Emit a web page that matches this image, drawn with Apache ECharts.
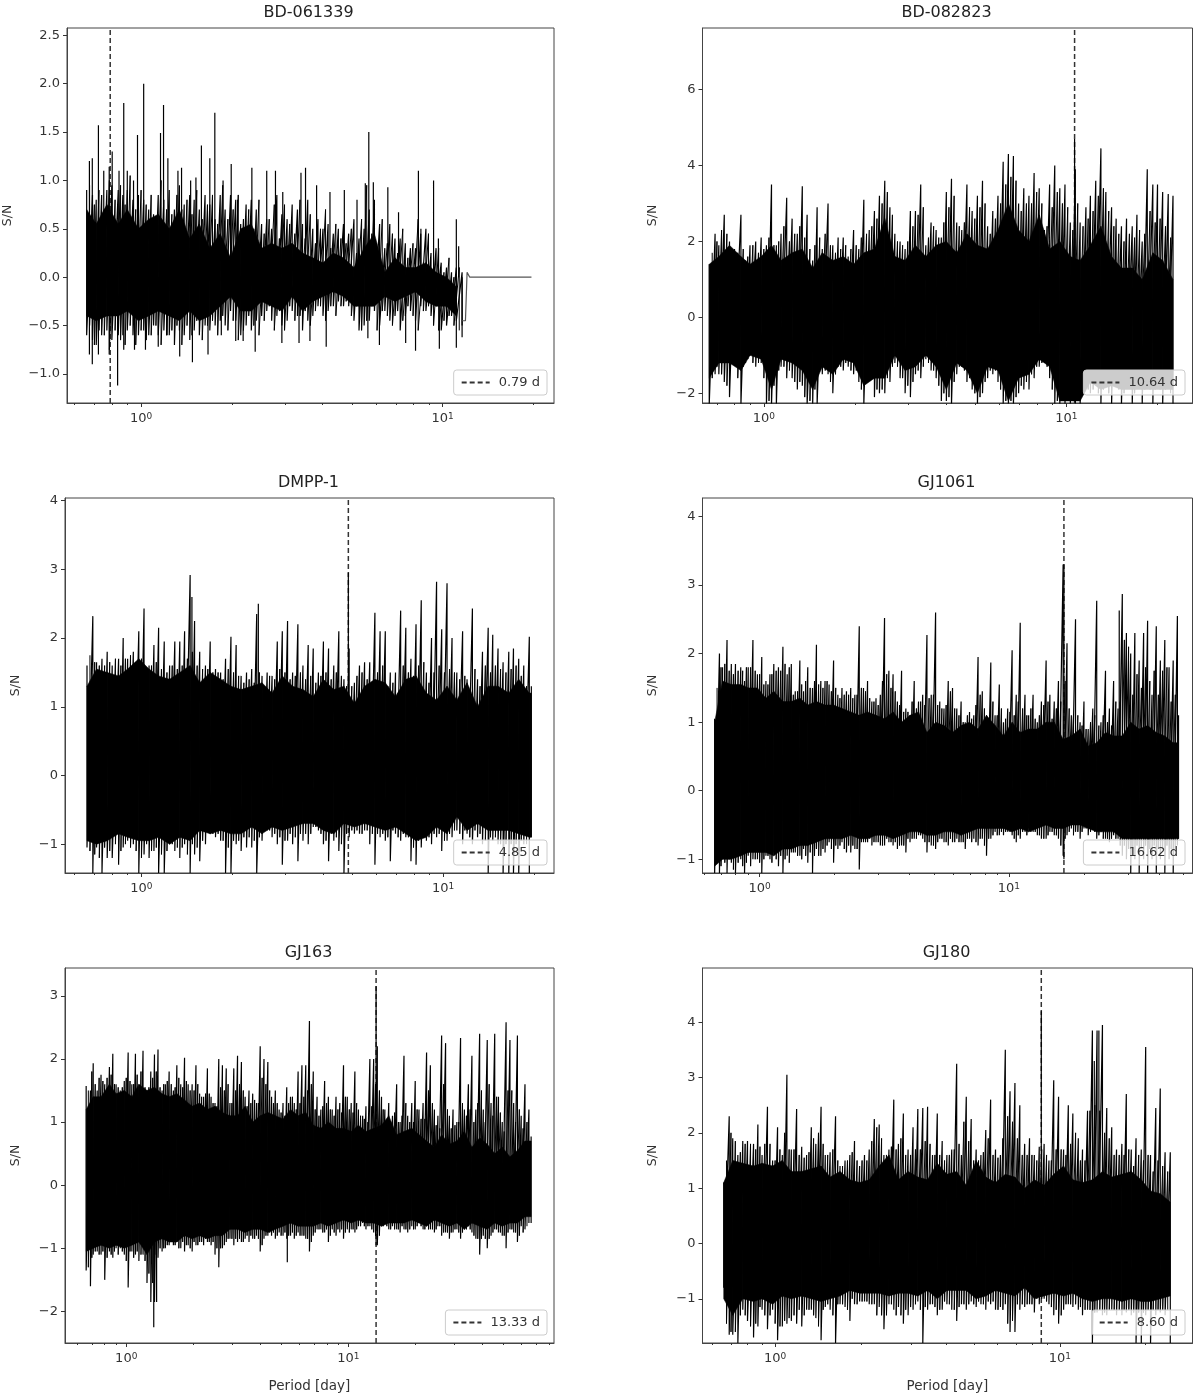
<!DOCTYPE html>
<html>
<head>
<meta charset="utf-8">
<title>S/N periodograms</title>
<script src="https://cdn.jsdelivr.net/npm/echarts@6/dist/echarts.min.js"></script>
<style>
html, body { margin: 0; background: #fff; }
#main { width: 1200px; height: 1398px; }
#main canvas { filter: blur(0.45px); }
</style>
</head>
<body>
<div id="main"></div>
<script>
var periodGrid = [.66,.69,.71,.74,.77,.80,.84,.87,.90,.94,.98,1.02,1.06,1.10,1.14,1.19,1.24,1.29,1.34,1.39,
  1.45,1.50,1.56,1.63,1.69,1.76,1.83,1.90,1.98,2.06,2.14,2.23,2.32,2.41,2.51,2.61,2.71,2.82,2.93,3.05,
  3.17,3.30,3.43,3.57,3.71,3.86,4.01,4.17,4.34,4.51,4.69,4.88,5.08,5.28,5.49,5.71,5.94,6.18,6.43,6.68,
  6.95,7.23,7.52,7.82,8.13,8.46,8.80,9.15,9.51,9.89,10.3,10.7,11.1,11.6,12.0,12.5,13.0,13.5,14.1,14.6,
  15.2,15.8,16.5,17.1,17.8,18.5,19.3,20.0,20.8,21.7,22.5,23.4,24.4,25.3,26.3,27.4,28.5,29.6,30.8,32.0,
  33.3,34.7,36.0,37.5,39.0,40.5,42.2,43.9,45.6,47.4,49.3,51.3,53.4,55.5,57.7,60.0,62.4,65.0];
// periods between the grid ones, used by the *MidHi / *MidLo strokes
var midGrid = [.675,.70,.725,.755,.785,.82,.855,.885,.92,.96,1.0,1.04,1.08,1.12,1.165,1.215,1.265,1.315,1.365,1.42,
  1.475,1.53,1.595,1.66,1.725,1.795,1.865,1.94,2.02,2.1,2.185,2.275,2.365,2.46,2.56,2.66,2.765,2.875,2.99,3.11,
  3.235,3.365,3.5,3.64,3.785,3.935,4.09,4.255,4.425,4.6,4.785,4.98,5.18,5.385,5.6,5.825,6.06,6.305,6.555,6.815,
  7.09,7.375,7.67,7.975,8.295,8.63,8.975,9.33,9.7,10.1,10.5,10.9,11.35,11.8,12.25,12.75,13.25,13.8,14.35,14.9,
  15.5,16.15,16.8,17.45,18.15,18.9,19.65,20.4,21.25,22.1,22.95,23.9,24.85,25.8,26.85,27.95,29.05,30.2,31.4,32.65,
  34.0,35.35,36.75,38.25,39.75,41.35,43.05,44.75,46.5,48.35,50.3,52.35,54.45,56.6,58.85,61.2,63.7];
var minorTicks = [.6,.7,.8,.9,2,3,4,5,6,7,8,9,20,30,40,50,60,70,80];
var majorTicks = [1,10];

// the *CoreHi / *CoreLo lists are the solid part, one value for every second grid period

// BD-061339
var bd061339Hi = [.9,.85,.8,.85,.9,.95,.9,.85,.9,.8,.85,
  .8,.7,.65,.85,.8,.9,.7,.95,.75,.85,
  .8,.7,.85,.75,.6,.85,.7,.85,.8,.55,
  .75,.8,.7,.55,.6,.5,.85,.65,.6,.75,
  .7,.55,.8,.5,.6,.5,.55,.45,.5,.55,
  .45,.6,.4,.5,.7,.8,.55,.3,.55,.4,
  .4,.35,.3,.3,.45,.5,.25,.3,.15,.1,.05,.1,.05];
var bd061339Lo = [-.6,-.65,-.7,-.6,-.55,-.65,-.6,-.6,-.55,-.6,-.6,
  -.55,-.6,-.5,-.6,-.55,-.6,-.7,-.55,-.6,-.65,
  -.55,-.6,-.5,-.55,-.5,-.45,-.5,-.35,-.45,-.6,
  -.5,-.55,-.45,-.4,-.35,-.45,-.4,-.5,-.45,-.35,
  -.4,-.55,-.45,-.4,-.3,-.4,-.35,-.3,-.25,-.3,
  -.3,-.45,-.55,-.5,-.45,-.35,-.5,-.35,-.45,-.4,
  -.55,-.4,-.35,-.45,-.3,-.35,-.4,-.3,-.55,-.5,-.4,-.45,-.5];
var bd061339MidHi = [.95,.75,.9,.7,1.0,.8,.95,.75,1.05,.7,.9,.75,.85,.6,1.0,.7,.65,.85,.7,.8,.65,.9,.6,.75,.85,.55,.95,.6,.7,.85,
  .6,.7,.5,.8,.45,.6,.75,.4,.75,.55,.45,.8,.4,.65,.35,.5,.7,.3,.55,.4,.35,.5,.25,.6,.95,.45,.2,.6,.35,.45,
  .25,.5,.2,.35,.6,.15,.45,.1,.3,.05,.2,0,.1];
var bd061339MidLo = [-.5,-.7,-.55,-.6,-.75,-.55,-.65,-.7,-.5,-.7,-.55,-.65,-.6,-.5,-.7,-.6,-.55,-.5,-.7,-.5,-.6,-.45,-.65,-.5,-.45,-.6,-.4,-.55,-.45,-.65,
  -.55,-.4,-.5,-.6,-.45,-.3,-.55,-.35,-.55,-.3,-.45,-.4,-.35,-.5,-.35,-.3,-.45,-.3,-.4,-.3,-.25,-.4,-.3,-.55,-.45,-.3,-.55,-.35,-.4,-.5,
  -.35,-.45,-.3,-.4,-.55,-.35,-.3,-.5,-.55,-.45,-.4,-.5,-.55];
var bd061339UpP = [.674,.689,.722,.752,.784,.802,.845,.876,.900,.944,.973,1.02,1.16,1.187,1.227,1.325,1.362,1.46,1.52,1.585,
  1.69,1.756,1.87,1.99,2.09,2.33,2.61,2.79,2.95,3.39,3.51,3.82,4.23,4.72,5.2,5.54,5.69,5.89,6.58,7.14,
  8.31,8.47,9.33,9.68,11.1,11.3];
var bd061339UpV = [1.2,1.23,1.57,1.1,1.14,1.3,1.1,1.8,1.1,1.0,1.47,2.0,1.49,1.78,1.23,1.1,1.13,1.0,1.03,1.36,
  1.23,1.7,1.0,1.17,.8,1.13,1.1,1.1,.88,1.08,1.13,.95,.88,.9,.8,.97,1.5,.98,.93,.67,
  1.1,.5,1.0,.4,.6,.32];
var bd061339DownP = [.674,.689,.722,.784,.836,.876,.951,1.034,1.14,1.22,1.343,1.48,1.667,1.845,2.06,2.18,2.39,2.93,3.34,3.63,
  4.11,5.65,6.17,7.54,8.13,9.75,11.1,11.6];
var bd061339DownV = [-.8,-.9,-.8,-.8,-1.12,-.75,-.75,-.75,-.72,-.6,-.82,-.88,-.8,-.6,-.66,-.66,-.77,-.68,-.68,-.66,
  -.72,-.63,-.7,-.68,-.76,-.74,-.73,-.62];
var bd061339CoreHi = [.7,.55,.75,.55,.7,.5,.6,.65,.5,.7,.4,.55,.3,.45,.2,.5,.55,.3,.35,.3,
  .35,.25,.2,.15,.25,.2,.1,.3,.45,.05,.2,.1,.1,.15,.05,0,-.1];
var bd061339CoreLo = [-.4,-.45,-.4,-.4,-.35,-.45,-.4,-.35,-.4,-.45,-.35,-.45,-.4,-.3,-.2,-.35,-.35,-.25,-.3,-.35,
  -.2,-.35,-.25,-.2,-.15,-.2,-.3,-.3,-.3,-.2,-.25,-.2,-.15,-.25,-.3,-.3,-.4];
var bd061339TailP = [11.6,11.9,12.05,12.3,19.7];
var bd061339TailV = [-.45,-.45,.05,0,0];

// BD-082823
var bd082823Hi = [1.4,2.2,1.9,2.7,2.0,1.8,2.7,1.5,1.9,2.0,
  2.1,1.9,3.5,1.9,2.2,3.15,2.6,2.2,3.45,2.7,
  1.5,2.9,1.8,3.0,1.9,2.1,2.1,1.6,2.3,1.8,
  3.1,2.3,2.8,3.2,3.6,2.9,2.2,2.0,1.8,2.8,
  2.8,3.5,1.9,2.5,2.3,2.1,3.3,3.65,2.5,2.3,
  3.5,2.8,3.2,3.6,2.4,2.8,3.2,4.1,4.3,4.25,
  3.0,3.4,3.2,3.8,3.4,2.3,3.5,4.0,3.4,3.5,
  2.5,3.9,2.5,2.9,3.2,3.6,4.45,3.3,2.9,2.6,
  2.4,2.6,2.4,2.7,2.0,3.9,3.5,3.5,3.3,3.25,3.2];
var bd082823Lo = [-2.3,-1.5,-1.5,-1.7,-2.1,-1.1,-2.3,-1.2,-1.0,-1.3,
  -1.2,-2.3,-2.3,-2.3,-1.3,-1.6,-1.6,-1.9,-1.8,-2.3,
  -2.3,-2.3,-1.5,-1.5,-2.0,-1.3,-1.4,-1.3,-1.5,-1.7,
  -2.3,-1.3,-2.1,-2.0,-2.0,-1.7,-1.2,-1.6,-2.0,-2.1,
  -1.5,-1.6,-1.1,-1.4,-1.6,-2.2,-2.2,-2.3,-1.5,-1.3,
  -1.7,-1.9,-2.3,-2.0,-1.6,-1.5,-1.7,-2.3,-2.3,-2.3,
  -2.0,-1.9,-1.9,-1.6,-1.3,-1.2,-1.6,-2.3,-2.3,-2.3,
  -2.3,-2.3,-2.3,-1.6,-2.0,-1.7,-2.3,-1.6,-2.3,-1.5,
  -2.3,-1.7,-2.3,-1.5,-2.3,-1.6,-2.3,-1.6,-2.3,-1.7,-2.3];
var bd082823MidHi = [1.7,2.0,2.3,2.2,1.8,1.7,1.8,1.6,1.9,1.7,1.8,2.1,1.9,2.0,2.4,2.0,2.2,2.4,2.1,1.8,1.9,2.1,2.2,1.9,1.7,1.8,1.9,1.8,1.9,2.1,
  2.2,2.4,2.6,3.0,3.3,2.7,2.0,1.9,2.0,2.4,2.7,2.9,2.1,2.4,2.1,2.5,2.9,3.2,2.4,2.5,2.9,2.6,2.9,3.0,2.2,2.6,3.0,3.5,3.7,3.6,
  2.8,3.0,3.0,3.3,3.0,2.4,2.9,3.3,3.0,2.9,2.3,3.0,2.4,2.6,2.8,3.2,3.4,2.8,2.4,2.2,2.0,2.2,2.1,2.3,2.2,2.8,2.5,2.6,2.4,2.1];
var bd082823MidLo = [-1.6,-1.3,-1.5,-1.8,-1.2,-1.6,-1.3,-1.1,-1.2,-1.2,-1.6,-2.2,-1.8,-1.4,-1.3,-1.4,-1.7,-1.7,-2.1,-2.2,-1.9,-1.4,-1.4,-1.7,-1.5,-1.3,-1.2,-1.4,-1.4,-1.9,
  -1.6,-1.6,-1.9,-1.9,-1.6,-1.3,-1.3,-1.6,-1.8,-1.7,-1.4,-1.3,-1.2,-1.4,-1.8,-2.0,-2.1,-1.7,-1.3,-1.4,-1.6,-2.0,-2.1,-1.7,-1.4,-1.4,-1.9,-2.2,-2.2,-2.1,
  -1.8,-1.7,-1.5,-1.3,-1.2,-1.3,-1.9,-2.2,-2.2,-2.2,-2.2,-2.2,-1.9,-1.9,-1.9,-2.0,-1.9,-2.0,-1.8,-1.9,-2.0,-1.8,-2.0,-1.8,-1.9,-1.9,-1.9,-1.9,-1.9,-2.0];
var bd082823UpP = [10.64];
var bd082823UpV = [4.7];
var bd082823DownP = [];
var bd082823DownV = [];
var bd082823CoreHi = [1.4,1.6,1.9,1.6,1.4,1.6,1.9,1.5,1.7,1.8,1.3,1.7,1.5,1.6,1.4,1.7,1.8,2.6,1.6,1.5,
  1.9,1.6,1.9,2.0,1.7,2.2,1.9,1.8,2.3,3.0,2.3,2.0,2.7,1.8,2.0,1.6,1.5,1.9,2.4,1.6,
  1.3,1.3,1.0,1.7,1.5,1.0];
var bd082823CoreLo = [-1.6,-1.2,-1.2,-1.4,-1.0,-1.1,-1.9,-1.1,-1.2,-1.4,-1.9,-1.3,-1.5,-1.1,-1.2,-1.8,-1.6,-1.6,-1.0,-1.4,
  -1.3,-1.0,-1.3,-1.9,-1.2,-1.4,-2.0,-1.3,-1.4,-2.2,-1.6,-1.5,-1.1,-1.3,-2.2,-2.2,-2.2,-1.7,-1.9,-1.8,
  -1.9,-1.9,-1.9,-1.9,-1.9,-1.9];

// DMPP-1
var dmpp1Hi = [1.6,2.32,1.65,1.7,1.8,1.6,1.7,2.0,1.7,1.8,
  2.1,2.43,1.6,1.9,2.15,1.95,1.6,1.95,1.95,2.1,
  2.92,2.25,1.8,1.6,1.95,1.55,1.5,1.7,2.02,1.9,
  1.45,1.5,1.55,2.35,1.45,1.5,1.45,1.95,2.1,2.25,
  1.5,2.2,1.6,1.9,1.85,1.5,1.95,1.85,1.6,2.1,
  1.4,1.85,1.35,1.6,1.65,1.65,2.37,2.1,2.1,1.5,
  1.5,2.4,2.15,1.7,2.2,2.55,1.5,2.0,2.82,2.13,
  2.8,2.0,1.5,2.1,1.4,2.43,1.4,1.8,2.15,2.05,
  1.85,1.65,1.8,1.85,1.7,1.6,2.02];
var dmpp1Lo = [-1.05,-1.42,-1.05,-1.42,-1.2,-1.2,-1.3,-1.05,-.95,-1.0,
  -1.42,-1.15,-1.2,-1.1,-1.42,-1.42,-1.0,-1.1,-1.2,-1.0,
  -1.42,-1.15,-1.25,-1.0,-.85,-.9,-.95,-1.42,-1.42,-1.0,
  -1.1,-1.05,-1.05,-1.42,-.95,-.8,-.9,-1.0,-1.3,-.95,
  -1.0,-1.25,-.95,-1.0,-.75,-.8,-1.0,-1.25,-.95,-1.1,
  -1.42,-.9,-.85,-.85,-.8,-1.0,-1.3,-.9,-.95,-1.25,
  -.85,-.95,-.9,-1.25,-1.3,-1.05,-.95,-1.0,-.9,-1.1,
  -.95,-.9,-.8,-1.0,-.85,-1.0,-.9,-1.0,-1.42,-.95,
  -1.0,-1.42,-1.42,-1.42,-1.42,-1.0,-1.42];
var dmpp1MidHi = [1.75,1.65,1.6,1.6,1.65,1.7,1.6,1.7,1.75,1.65,1.7,1.55,1.6,1.65,1.55,1.5,1.6,1.55,1.6,1.7,1.8,1.6,1.55,1.55,1.5,1.5,1.4,1.55,1.5,1.45,
  1.35,1.4,1.35,1.5,1.3,1.45,1.4,1.55,1.5,1.4,1.45,1.5,1.4,1.45,1.35,1.45,1.5,1.4,1.5,1.45,1.3,1.3,1.45,1.5,1.4,1.35,1.5,1.6,1.3,1.35,
  1.2,1.6,1.5,1.45,1.6,1.65,1.35,1.5,1.6,1.5,1.55,1.5,1.4,1.45,1.2,1.55,1.3,1.6,1.5,1.6,1.55,1.5,1.55,1.6,1.45,1.3];
var dmpp1MidLo = [-1.1,-1.15,-1.2,-1.05,-1.1,-1.0,-1.1,-1.0,-1.05,-1.1,-1.2,-1.0,-1.1,-1.05,-1.15,-1.1,-1.0,-1.05,-1.05,-1.15,-1.0,-1.05,-.95,-.8,-.85,-.85,-.95,-1.05,-.95,-.95,
  -.9,-.9,-.95,-.9,-.8,-.8,-.85,-.9,-.95,-.85,-.9,-.85,-.85,-.85,-.75,-.85,-.95,-.85,-.9,-1.0,-.85,-.8,-.8,-.85,-.8,-.85,-.85,-.85,-.9,-.8,
  -.9,-.85,-.9,-1.05,-.95,-.85,-.9,-.85,-.85,-.95,-.85,-.8,-.85,-.8,-.9,-.8,-.85,-.95,-.9,-.9,-1.0,-1.0,-1.0,-1.0,-.95,-1.0];
var dmpp1UpP = [4.85,1.47,2.44,19.6];
var dmpp1UpV = [2.95,2.6,2.5,1.3];
var dmpp1DownP = [19.6];
var dmpp1DownV = [-.9];
var dmpp1CoreHi = [1.3,1.55,1.5,1.45,1.55,1.7,1.55,1.45,1.4,1.5,1.6,1.35,1.5,1.4,1.3,1.25,1.3,1.35,1.2,1.45,
  1.3,1.25,1.15,1.4,1.25,1.3,1.05,1.3,1.4,1.35,1.15,1.4,1.45,1.2,1.1,1.3,1.1,1.35,1.0,1.3,
  1.3,1.2,1.4,1.2];
var dmpp1CoreLo = [-.95,-1.0,-.95,-.85,-.9,-.95,-.95,-.9,-1.0,-.9,-.95,-.8,-.85,-.8,-.85,-.85,-.75,-.85,-.75,-.8,
  -.75,-.7,-.7,-.8,-.85,-.7,-.75,-.7,-.75,-.8,-.75,-.85,-.95,-.9,-.75,-.85,-.6,-.8,-.7,-.8,
  -.8,-.8,-.85,-.9];

// GJ1061
var gj1061Hi = [1.05,2.0,1.8,2.2,1.85,1.85,1.8,1.6,1.8,2.2,
  1.7,1.95,1.6,1.7,1.85,1.8,2.1,1.7,1.85,1.45,
  1.9,1.45,1.8,1.5,2.13,1.6,1.6,1.55,1.9,1.4,
  1.5,1.45,1.5,1.4,2.4,1.5,1.6,1.3,1.35,1.4,
  2.52,1.75,1.7,1.3,1.75,1.2,1.1,1.6,1.3,1.4,
  2.27,1.4,2.6,1.3,1.2,1.6,1.5,1.2,1.3,1.0,
  1.15,1.1,1.95,1.45,1.1,1.87,1.1,1.55,1.0,1.2,
  2.05,1.4,2.45,1.4,1.1,1.4,1.0,1.3,1.9,1.4,
  1.3,1.6,3.3,2.15,1.1,2.5,1.0,1.3,.9,1.2,
  2.77,1.0,1.75,1.2,1.6,1.2,2.87,2.3,2.0,2.3,
  1.9,2.3,2.48,1.4,2.4,1.9,2.2,1.8,1.9,2.55];
var gj1061Lo = [-1.2,-1.2,-1.0,-1.2,-1.05,-1.2,-1.0,-1.2,-.95,-1.0,
  -1.0,-1.2,-.95,-1.0,-.9,-1.1,-1.2,-.95,-.9,-.9,
  -.95,-.85,-1.05,-1.2,-.85,-.95,-.9,-.75,-1.05,-.85,
  -.75,-.9,-.9,-.85,-1.15,-.75,-.75,-.8,-.75,-.8,
  -.8,-.75,-.8,-.85,-.8,-.9,-.75,-.7,-.65,-.7,
  -.9,-.8,-.85,-.7,-.75,-.8,-.75,-.7,-.75,-.85,
  -.7,-.7,-.8,-.7,-.95,-.7,-.6,-.65,-.65,-.6,
  -.65,-.75,-.7,-.6,-.55,-.6,-.65,-.7,-.7,-.6,
  -.65,-.7,-.95,-.65,-.55,-.6,-.7,-.55,-.65,-.5,
  -.7,-.6,-.7,-.75,-.65,-.7,-.95,-1.0,-1.2,-1.0,
  -1.2,-1.0,-1.2,-1.0,-1.2,-1.0,-1.2,-1.0,-1.2,-.8];
var gj1061MidHi = [1.5,1.8,1.85,1.75,1.7,1.75,1.75,1.8,1.8,1.75,1.7,1.55,1.55,1.7,1.75,1.75,1.85,1.8,1.4,1.45,1.55,1.6,1.5,1.6,1.55,1.5,1.6,1.45,1.5,1.35,
  1.4,1.4,1.35,1.4,1.5,1.45,1.35,1.3,1.25,1.6,1.7,1.5,1.45,1.25,1.15,1.15,1.3,1.2,1.3,1.25,1.35,1.4,1.25,1.2,1.25,1.45,1.2,1.1,1.0,1.1,
  1.05,1.25,1.4,1.2,1.05,1.3,1.1,1.2,1.05,1.15,1.1,1.3,1.2,1.1,1.2,1.05,1.1,1.25,1.3,1.05,1.2,1.3,1.6,1.2,1.1,1.1,.95,.9,1.0,1.1,
  .95,1.1,1.0,.95,1.3,1.3,2.2,2.1,1.4,1.7,1.5,1.8,1.6,1.75,1.4,1.75,1.8,1.3,1.4];
var gj1061MidLo = [-1.05,-1.1,-1.05,-1.0,-1.15,-1.05,-1.1,-1.05,-1.1,-1.0,-1.05,-1.0,-.95,-1.05,-1.0,-.95,-1.0,-1.05,-.9,-.95,-1.0,-.95,-.9,-.95,-.95,-.85,-.8,-.85,-.8,-.8,
  -.85,-.8,-.8,-.85,-.75,-.75,-.7,-.75,-.75,-.8,-.7,-.75,-.75,-.8,-.8,-.7,-.7,-.7,-.65,-.75,-.75,-.8,-.75,-.7,-.75,-.7,-.75,-.75,-.75,-.7,
  -.75,-.75,-.7,-.8,-.7,-.65,-.65,-.6,-.6,-.6,-.7,-.65,-.6,-.65,-.6,-.6,-.65,-.7,-.65,-.6,-.65,-.8,-.7,-.6,-.65,-.6,-.6,-.55,-.6,-.6,
  -.65,-.7,-.7,-.7,-.7,-.8,-.8,-.85,-.85,-.8,-.85,-.8,-.85,-.8,-.85,-.85,-.8,-.85,-.85];
var gj1061UpP = [16.62,27.7,47.9];
var gj1061UpV = [3.3,2.63,1.1];
var gj1061DownP = [16.62,47.9];
var gj1061DownV = [-1.0,-.7];
var gj1061CoreHi = [1.0,1.6,1.55,1.55,1.5,1.5,1.35,1.45,1.3,1.3,1.35,1.25,1.3,1.25,1.25,1.2,1.15,1.1,1.15,1.1,
  1.05,1.15,1.0,1.1,1.15,.85,1.0,.95,.85,.95,1.0,.9,1.1,.95,.8,1.0,.85,.9,.9,1.0,
  1.0,.75,.8,.9,.65,.7,.85,.8,.8,1.0,.9,.95,.85,.8,.7];
var gj1061CoreLo = [-1.1,-1.0,-1.0,-.95,-.9,-.9,-.9,-.95,-.85,-.85,-.8,-.8,-.75,-.7,-.7,-.7,-.65,-.7,-.7,-.65,
  -.65,-.7,-.65,-.6,-.6,-.65,-.65,-.6,-.6,-.65,-.6,-.55,-.55,-.55,-.55,-.6,-.55,-.6,-.55,-.5,
  -.55,-.55,-.5,-.5,-.55,-.6,-.6,-.6,-.7,-.7,-.7,-.7,-.7,-.7,-.7];

// GJ163
var gj163Hi = [1.57,1.5,1.93,1.5,1.75,1.6,1.87,2.08,1.6,1.5,
  1.65,2.1,1.6,2.08,1.55,2.13,1.5,1.8,2.07,2.15,
  1.5,1.6,1.8,1.5,1.9,1.6,2.02,1.6,1.6,1.9,
  1.45,1.4,1.85,1.4,1.3,2.0,1.9,1.85,1.3,1.85,
  2.05,1.95,1.4,1.5,1.45,1.3,2.2,2.0,1.95,1.4,
  1.5,1.2,1.3,1.55,1.4,1.3,1.8,1.9,1.9,2.6,
  1.8,1.4,1.2,1.65,1.4,1.2,1.4,1.3,1.9,1.4,
  1.3,1.8,1.2,1.1,1.25,2.0,2.0,2.2,1.4,1.2,
  1.3,1.1,1.6,1.0,2.05,1.1,1.3,1.65,1.2,1.3,
  2.1,1.9,1.2,1.1,2.37,2.25,1.1,1.2,1.0,2.33,
  1.2,1.6,2.05,1.2,2.4,1.2,2.3,1.3,2.4,1.4,
  1.0,2.58,2.3,1.3,2.37,1.1,1.6,1.2];
var gj163Lo = [-1.35,-1.6,-1.1,-1.05,-1.1,-1.5,-1.05,-1.15,-1.0,-1.0,
  -1.1,-1.62,-1.05,-1.1,-1.2,-1.1,-1.55,-1.85,-1.85,-1.15,
  -1.05,-1.0,-.95,-.95,-.9,-1.0,-1.05,-.95,-1.05,-.95,
  -.9,-.95,-.9,-.95,-1.1,-1.3,-1.0,-.9,-.85,-.95,
  -.9,-.9,-.85,-.9,-.85,-.8,-1.05,-.85,-.8,-.8,
  -.85,-.75,-.8,-.85,-.8,-.85,-.75,-.8,-.85,-1.05,
  -.8,-.7,-.7,-.75,-.9,-.7,-.8,-.75,-.85,-.7,
  -.7,-.75,-.65,-.6,-.7,-.65,-.75,-.95,-.65,-.6,
  -.7,-.65,-.7,-.75,-.7,-.75,-.65,-.7,-.6,-.7,
  -.65,-.7,-.75,-.65,-.8,-.75,-.85,-.75,-.7,-.85,
  -.7,-.65,-.75,-.85,-1.1,-.8,-1.0,-.8,-.7,-.75,
  -.8,-1.0,-.7,-.75,-.9,-.65,-.7,-.6];
var gj163MidHi = [1.5,1.8,1.6,1.7,1.65,1.7,1.75,1.6,1.55,1.55,1.7,1.65,1.6,1.75,1.8,1.55,1.55,1.7,1.8,1.55,1.6,1.65,1.6,1.55,1.7,1.55,1.65,1.5,1.5,1.6,
  1.4,1.45,1.45,1.3,1.25,1.55,1.5,1.6,1.3,1.5,1.6,1.5,1.25,1.3,1.35,1.3,1.7,1.6,1.5,1.3,1.3,1.15,1.1,1.3,1.4,1.2,1.3,1.4,1.5,1.6,
  1.2,1.1,1.25,1.3,1.2,1.1,1.2,1.15,1.4,1.2,1.15,1.3,1.1,1.05,1.0,1.25,1.6,1.5,1.2,1.0,1.0,1.15,1.0,1.1,1.3,1.0,1.0,1.2,1.05,1.05,
  1.5,1.3,.95,.9,1.6,1.2,.9,.95,1.0,1.3,1.1,1.2,1.0,1.3,1.5,1.0,1.6,1.1,1.4,1.15,.85,1.5,1.5,1.0,1.2,.9,1.0];
var gj163MidLo = [-1.3,-1.15,-1.05,-1.1,-1.05,-1.15,-1.1,-1.05,-1.1,-1.05,-1.2,-1.05,-1.15,-1.05,-1.1,-1.2,-1.4,-1.55,-1.1,-1.0,-1.0,-.95,-.9,-.95,-1.0,-.9,-.95,-1.0,-.9,-.95,
  -.9,-.85,-.9,-.9,-1.0,-1.0,-.95,-.85,-.85,-.85,-.85,-.9,-.8,-.8,-.85,-.85,-.95,-.8,-.75,-.75,-.8,-.8,-.75,-.8,-.75,-.8,-.8,-.8,-.85,-.9,
  -.75,-.7,-.75,-.7,-.8,-.75,-.7,-.7,-.75,-.75,-.7,-.7,-.65,-.65,-.65,-.7,-.8,-.8,-.65,-.65,-.7,-.7,-.7,-.65,-.7,-.7,-.7,-.65,-.65,-.7,
  -.7,-.7,-.7,-.65,-.75,-.75,-.75,-.7,-.75,-.75,-.7,-.7,-.8,-.85,-.85,-.85,-.85,-.75,-.7,-.75,-.8,-.75,-.7,-.75,-.8,-.75,-.65];
var gj163UpP = [13.33,66.5];
var gj163UpV = [3.15,.77];
var gj163DownP = [1.33,1.37,5.31,13.33,66.5];
var gj163DownV = [-2.25,-1.85,-1.22,-.95,-.6];
var gj163CoreHi = [1.2,1.4,1.4,1.6,1.45,1.5,1.4,1.6,1.5,1.55,1.45,1.4,1.45,1.35,1.25,1.3,1.2,1.25,1.15,1.1,
  1.1,1.25,1.0,1.1,1.15,1.1,1.05,1.2,1.1,1.15,.95,.9,1.0,.9,.9,.85,.95,.85,.9,.95,
  1.1,.8,.85,.9,.8,.7,.6,.8,.65,.7,.85,.6,.75,.65,.5,.6,.45,.55,.7];
var gj163CoreLo = [-1.05,-1.0,-.95,-1.0,-.95,-1.0,-.95,-.9,-1.1,-.9,-.85,-.9,-.9,-.8,-.85,-.8,-.85,-.8,-.8,-.7,
  -.7,-.75,-.7,-.7,-.75,-.7,-.65,-.6,-.65,-.65,-.65,-.6,-.65,-.6,-.55,-.6,-.55,-.6,-.6,-.65,
  -.6,-.6,-.6,-.55,-.6,-.65,-.55,-.6,-.65,-.6,-.7,-.6,-.65,-.7,-.6,-.65,-.6,-.6,-.5];

// GJ180
var gj180Hi = [1.1,2.3,1.9,1.6,1.85,1.85,1.8,2.15,1.6,2.47,
  1.5,2.1,1.6,3.05,1.7,2.43,1.75,1.6,2.1,1.8,
  2.47,1.6,1.65,2.3,1.4,1.5,1.6,1.85,1.4,1.6,
  1.7,2.25,2.15,1.6,1.7,2.6,1.8,2.35,1.7,2.1,
  2.43,2.45,2.47,1.6,2.35,1.85,1.6,1.7,3.25,1.6,
  2.65,2.25,1.7,1.6,2.05,2.6,1.7,1.6,3.5,2.75,
  2.9,2.5,1.8,1.9,1.6,1.75,1.8,1.5,2.95,2.65,
  1.7,2.5,2.35,1.9,1.7,2.4,3.85,3.85,3.95,2.45,
  2.1,1.7,1.8,2.7,1.7,1.9,1.7,3.55,1.6,2.45,
  2.8,1.65,1.65];
var gj180Lo = [-.8,-1.65,-1.65,-1.8,-1.2,-1.4,-1.7,-1.5,-1.2,-1.55,
  -1.2,-1.75,-1.5,-1.45,-1.4,-1.45,-1.5,-1.2,-1.2,-1.35,
  -1.75,-1.15,-1.2,-1.8,-1.1,-1.15,-1.4,-1.1,-1.05,-1.05,
  -1.1,-1.1,-1.15,-1.55,-1.1,-1.2,-1.15,-1.45,-1.3,-1.2,
  -1.05,-1.8,-1.2,-1.1,-1.3,-1.2,-1.1,-1.2,-1.4,-1.1,
  -1.2,-1.05,-1.15,-1.1,-1.2,-1.1,-1.2,-1.15,-1.1,-1.6,
  -1.6,-1.2,-1.15,-1.1,-1.25,-1.1,-1.0,-1.1,-1.3,-1.45,
  -1.2,-1.1,-1.15,-1.2,-1.3,-1.2,-1.8,-1.25,-1.3,-1.3,
  -1.2,-1.3,-1.3,-1.25,-1.3,-1.8,-1.8,-1.3,-1.8,-1.3,
  -1.25,-1.3,-1.8];
var gj180MidHi = [1.5,2.0,1.85,1.65,1.8,1.8,1.7,1.75,1.8,1.8,1.5,1.7,2.0,1.7,1.7,1.6,1.55,1.65,1.9,2.0,1.8,1.6,1.7,1.5,1.4,1.5,1.65,1.5,1.5,1.5,
  1.85,2.1,1.9,1.6,1.75,1.7,1.9,1.6,1.6,1.7,1.7,1.85,1.8,1.6,1.6,1.5,1.6,1.7,1.8,2.2,1.85,1.5,1.5,1.65,1.9,1.6,1.55,1.9,2.3,2.2,
  1.9,1.6,1.6,1.6,1.5,1.7,1.6,1.5,1.7,1.7,1.6,1.8,2.0,1.5,1.5,2.4,2.5,2.4,2.0,1.9,1.6,1.6,1.6,1.7,1.4,1.6,1.5,1.6,1.3,1.5,1.4,1.3];
var gj180MidLo = [-1.45,-1.6,-1.6,-1.3,-1.3,-1.5,-1.45,-1.15,-1.3,-1.3,-1.45,-1.5,-1.4,-1.35,-1.3,-1.2,-1.3,-1.2,-1.3,-1.5,-1.2,-1.1,-1.3,-1.1,-1.1,-1.2,-1.0,-1.1,-1.05,-1.05,
  -1.1,-1.3,-1.3,-1.3,-1.1,-1.3,-1.3,-1.2,-1.15,-1.1,-1.2,-1.15,-1.1,-1.15,-1.2,-1.05,-1.1,-1.2,-1.15,-1.1,-1.1,-1.1,-1.05,-1.1,-1.05,-1.05,-1.2,-1.2,-1.45,-1.4,
  -1.1,-1.1,-1.1,-1.1,-1.0,-1.0,-1.05,-1.15,-1.2,-1.3,-1.1,-1.1,-1.1,-1.15,-1.2,-1.2,-1.25,-1.2,-1.25,-1.2,-1.2,-1.2,-1.2,-1.2,-1.25,-1.25,-1.25,-1.2,-1.2,-1.2,-1.2,-1.2];
var gj180UpP = [8.6,13.2,13.7];
var gj180UpV = [4.2,3.3,3.85];
var gj180DownP = [];
var gj180DownV = [];
var gj180CoreHi = [1.1,1.5,1.45,1.4,1.45,1.4,1.5,1.3,1.3,1.35,1.4,1.2,1.3,1.15,1.1,1.15,1.4,1.6,1.15,1.3,
  1.2,1.15,1.45,1.25,1.3,1.05,1.5,1.2,1.1,1.25,1.2,1.0,1.15,1.05,1.25,1.4,1.15,1.1,1.15,1.3,
  1.2,1.25,1.3,1.15,.95,.9,.75];
var gj180CoreLo = [-1.0,-1.3,-1.0,-1.05,-1.0,-1.1,-.95,-1.0,-.95,-1.0,-1.05,-1.0,-.95,-.85,-.9,-.9,-.9,-.95,-.9,-.9,
  -.95,-.85,-1.0,-.85,-.85,-.85,-1.0,-.95,-.85,-.9,-.95,-.8,-1.0,-.95,-.9,-.95,-.9,-1.0,-1.05,-1.0,
  -1.0,-1.05,-1.0,-1.05,-1.05,-1.0,-.95];

var panels = [
  {title: 'BD-061339', peak: 0.79, legend: '0.79 d', xMin: .568, xMax: 23.4, yMin: -1.3, yMax: 2.575,
   yTicks: [-1, -.5, 0, .5, 1, 1.5, 2, 2.5], digits: 1, hi: bd061339Hi, lo: bd061339Lo, midHi: bd061339MidHi, midLo: bd061339MidLo,
   upP: bd061339UpP, upV: bd061339UpV, downP: bd061339DownP, downV: bd061339DownV,
   coreHi: bd061339CoreHi, coreLo: bd061339CoreLo,
   tailP: bd061339TailP, tailV: bd061339TailV},
  {title: 'BD-082823', peak: 10.64, legend: '10.64 d', xMin: .627, xMax: 26.1, yMin: -2.255, yMax: 7.62,
   yTicks: [-2, 0, 2, 4, 6], digits: 0, hi: bd082823Hi, lo: bd082823Lo, midHi: bd082823MidHi, midLo: bd082823MidLo,
   upP: bd082823UpP, upV: bd082823UpV, downP: bd082823DownP, downV: bd082823DownV,
   coreHi: bd082823CoreHi, coreLo: bd082823CoreLo},
  {title: 'DMPP-1', peak: 4.85, legend: '4.85 d', xMin: .558, xMax: 23.3, yMin: -1.42, yMax: 4.04,
   yTicks: [-1, 0, 1, 2, 3, 4], digits: 0, hi: dmpp1Hi, lo: dmpp1Lo, midHi: dmpp1MidHi, midLo: dmpp1MidLo,
   upP: dmpp1UpP, upV: dmpp1UpV, downP: dmpp1DownP, downV: dmpp1DownV,
   coreHi: dmpp1CoreHi, coreLo: dmpp1CoreLo, end: 19.6},
  {title: 'GJ1061', peak: 16.62, legend: '16.62 d', xMin: .59, xMax: 54.5, yMin: -1.2, yMax: 4.27,
   yTicks: [-1, 0, 1, 2, 3, 4], digits: 0, hi: gj1061Hi, lo: gj1061Lo, midHi: gj1061MidHi, midLo: gj1061MidLo,
   upP: gj1061UpP, upV: gj1061UpV, downP: gj1061DownP, downV: gj1061DownV,
   coreHi: gj1061CoreHi, coreLo: gj1061CoreLo, end: 47.9},
  {title: 'GJ163', peak: 13.33, legend: '13.33 d', xMin: .53, xMax: 84.3, yMin: -2.5, yMax: 3.44,
   yTicks: [-2, -1, 0, 1, 2, 3], digits: 0, hi: gj163Hi, lo: gj163Lo, midHi: gj163MidHi, midLo: gj163MidLo,
   upP: gj163UpP, upV: gj163UpV, downP: gj163DownP, downV: gj163DownV,
   coreHi: gj163CoreHi, coreLo: gj163CoreLo, end: 66.5, xName: 'Period [day]'},
  {title: 'GJ180', peak: 8.6, legend: '8.60 d', xMin: .556, xMax: 29.2, yMin: -1.8, yMax: 4.98,
   yTicks: [-1, 0, 1, 2, 3, 4], digits: 0, hi: gj180Hi, lo: gj180Lo, midHi: gj180MidHi, midLo: gj180MidLo,
   upP: gj180UpP, upV: gj180UpV, downP: gj180DownP, downV: gj180DownV,
   coreHi: gj180CoreHi, coreLo: gj180CoreLo, xName: 'Period [day]'}
];

var FONT = '"DejaVu Sans", sans-serif';
var INK = '#333';
var colLeft = [65, 702.5], colWidth = [489, 490], rowTop = [28, 498, 968], plotH = 375;
var legendBox = [[370, 653], [370, 15], [840, 653], [840, 15], [1310, 653], [1310, 15]];

var option = {animation: false, backgroundColor: '#fff', title: [], legend: [], grid: [], xAxis: [], yAxis: [], series: []};

panels.forEach(function (p, i) {
  var col = i % 2, row = (i - col) / 2;
  var left = colLeft[col], top = rowTop[row];
  option.grid.push({left: left, top: top, width: colWidth[col], height: plotH, show: true,
    borderColor: '#444', borderWidth: 1, backgroundColor: 'transparent'});
  option.title.push({text: p.title, left: left + colWidth[col] / 2 - 6, top: top - 28, textAlign: 'center',
    textStyle: {fontFamily: FONT, fontSize: 16, fontWeight: 'normal', color: '#222'}});
  option.legend.push({data: [p.legend], right: legendBox[i][1], top: legendBox[i][0], orient: 'horizontal',
    itemWidth: 28, itemHeight: 10, padding: [6, 7], borderColor: '#ccc', borderWidth: 1, borderRadius: 3,
    backgroundColor: 'rgba(255,255,255,0.8)', selectedMode: false,
    itemStyle: {color: 'transparent', borderWidth: 0},
    textStyle: {fontFamily: FONT, fontSize: 13, color: INK, padding: [0, 0, 0, 4]}});

  option.xAxis.push({type: 'log', gridIndex: i, min: p.xMin, max: p.xMax, position: 'bottom',
    name: p.xName || '', nameLocation: 'middle', nameGap: 36,
    nameTextStyle: {fontFamily: FONT, fontSize: 13.5, color: INK},
    axisLine: {onZero: false, lineStyle: {color: '#444'}},
    axisTick: {show: true, length: 4, customValues: majorTicks, lineStyle: {color: INK}},
    splitLine: {show: false},
    axisLabel: {show: true, customValues: majorTicks, margin: 9, color: INK, fontFamily: FONT, fontSize: 13,
      formatter: function (v) { return '10{s|' + Math.round(Math.log(v) / Math.LN10) + '}'; },
      rich: {s: {fontSize: 9, fontFamily: FONT, color: INK, verticalAlign: 'top', padding: [0, 0, 5, 0]}}}});
  // second axis only carries the short log ticks
  option.xAxis.push({type: 'log', gridIndex: i, min: p.xMin, max: p.xMax, position: 'bottom',
    axisLine: {show: false, onZero: false},
    axisTick: {show: true, length: 2, customValues: minorTicks, lineStyle: {color: INK}},
    axisLabel: {show: false}, splitLine: {show: false}});
  option.yAxis.push({type: 'value', gridIndex: i, min: p.yMin, max: p.yMax,
    name: 'S/N', nameLocation: 'middle', nameGap: p.digits ? 53 : 43,
    nameTextStyle: {fontFamily: FONT, fontSize: 12.5, color: INK},
    axisLine: {show: true, onZero: false, lineStyle: {color: '#444'}},
    axisTick: {show: true, length: 4, customValues: p.yTicks, lineStyle: {color: INK}},
    splitLine: {show: false},
    axisLabel: {customValues: p.yTicks, margin: 7, color: INK, fontFamily: FONT, fontSize: 13,
      formatter: function (v) { return v.toFixed(p.digits).replace('-', '\u2212'); }}});

  var xIdx = i * 2;

  // peak marker goes under the trace
  option.series.push({type: 'line', name: p.legend, xAxisIndex: xIdx, yAxisIndex: i, silent: true,
    data: [[p.peak, p.yMin], [p.peak, p.yMax]], symbol: 'none', z: 1,
    lineStyle: {color: '#333', width: 1.5, type: [5, 3]}, itemStyle: {color: '#333'}});

  // solid part of the trace, coreHi/coreLo sit on every second grid period
  var coreRows = p.coreHi.map(function (v, k) { return [periodGrid[k * 2], v, p.coreLo[k]]; });
  if (p.end) coreRows.push([p.end, p.coreHi[p.coreHi.length - 1], p.coreLo[p.coreLo.length - 1]]);
  option.series.push({type: 'custom', xAxisIndex: xIdx, yAxisIndex: i, data: coreRows, silent: true, z: 2,
    encode: {x: 0, y: [1, 2]}, clip: true,
    renderItem: function (params, api) {
      var k = params.dataIndex;
      if (k >= coreRows.length - 1) return null;
      var a = coreRows[k], b = coreRows[k + 1];
      return {type: 'polygon', shape: {points: [api.coord([a[0], a[1]]), api.coord([b[0], b[1]]),
        api.coord([b[0], b[2]]), api.coord([a[0], a[2]])]}, style: {fill: '#000', stroke: '#000', lineWidth: .5}};
    }});

  // envelope read on the shared periods, one stroke per sample
  var trace = [];
  for (var k = 0; k < p.hi.length; k++) {
    trace.push([periodGrid[k], p.hi[k]], [periodGrid[k], p.lo[k]]);
  }
  option.series.push({type: 'line', xAxisIndex: xIdx, yAxisIndex: i, data: trace, showSymbol: false, silent: true, z: 2,
    lineStyle: {color: '#000', width: 1.2}, sampling: null});

  // lower strokes in between, they make the comb along the edge of the solid part
  var midTrace = [];
  var midCount = Math.min(p.midHi.length, p.midLo.length, midGrid.length);
  for (var m = 0; m < midCount; m++) {
    midTrace.push([midGrid[m], p.midHi[m]], [midGrid[m], p.midLo[m]]);
  }
  option.series.push({type: 'line', xAxisIndex: xIdx, yAxisIndex: i, data: midTrace, showSymbol: false, silent: true, z: 2,
    lineStyle: {color: '#000', width: 1}, sampling: null});

  // single spikes that do not sit on a shared period
  var spikes = [];
  p.upP.forEach(function (x, k) { spikes.push([x, 0], [x, p.upV[k]], ['-', '-']); });
  p.downP.forEach(function (x, k) { spikes.push([x, 0], [x, p.downV[k]], ['-', '-']); });
  option.series.push({type: 'line', xAxisIndex: xIdx, yAxisIndex: i, data: spikes, showSymbol: false, silent: true, z: 2,
    connectNulls: false, lineStyle: {color: '#000', width: 1.2}});

  if (p.tailP) {
    option.series.push({type: 'line', xAxisIndex: xIdx, yAxisIndex: i, silent: true, showSymbol: false, z: 2,
      data: p.tailP.map(function (x, k) { return [x, p.tailV[k]]; }),
      lineStyle: {color: '#555', width: 1.2}});
  }
});

echarts.init(document.getElementById('main')).setOption(option);
</script>
</body>
</html>
